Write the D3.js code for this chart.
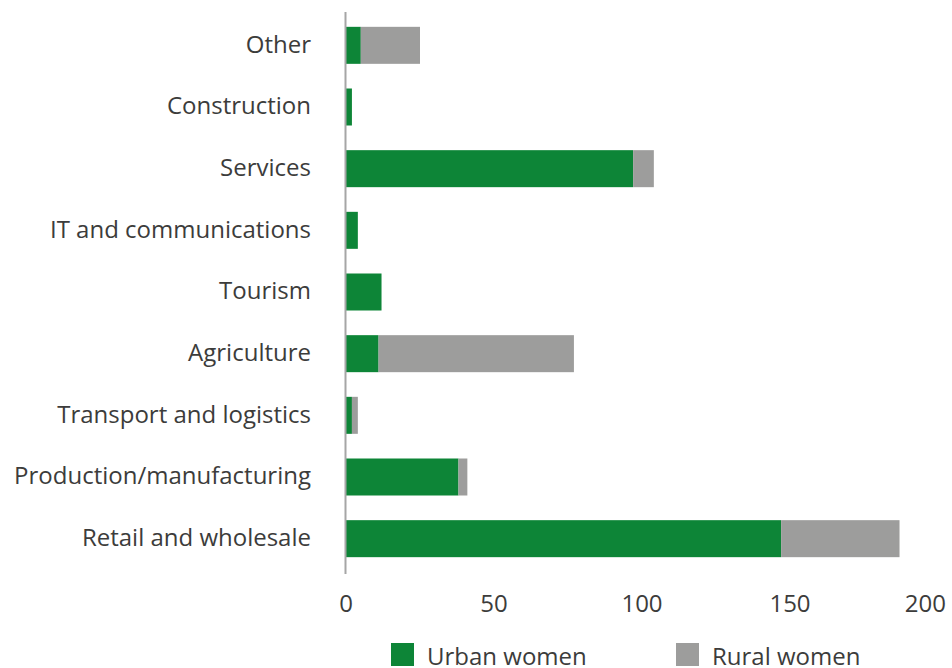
<!DOCTYPE html>
<html><head><meta charset="utf-8">
<script src="https://cdn.jsdelivr.net/npm/d3@7"></script>
<style>body{margin:0;background:#fff;} text{font-family:"Open Sans",sans-serif;fill:#3c3c3b;}</style>
</head><body><svg id="c" width="952" height="668"></svg>
<script>
const categories = ["Other","Construction","Services","IT and communications","Tourism","Agriculture","Transport and logistics","Production/manufacturing","Retail and wholesale"];
const urbanWomen = [5, 2, 97, 4, 12, 11, 2, 38, 147];
const ruralWomen = [20, 0, 7, 0, 0, 66, 2, 3, 40];
const seriesNames = ["Urban women","Rural women"];
const seriesColors = ["#0d8537","#9d9d9c"];
const xTicks = [0,50,100,150,200];

const svg = d3.select("#c");
const x = d3.scaleLinear().domain([0,200]).range([346,938]);
const y = d3.scaleBand().domain(categories).range([14.5,569.5]).paddingInner(0.4).paddingOuter(0.2);

const rows = categories.map((c,i)=>({cat:c, "Urban women":urbanWomen[i], "Rural women":ruralWomen[i]}));
const stacked = d3.stack().keys(seriesNames)(rows);

svg.selectAll("g.s").data(stacked).join("g").attr("fill",(d,i)=>seriesColors[i])
  .selectAll("rect").data(d=>d).join("rect")
  .attr("x",d=>x(d[0])).attr("width",d=>Math.max(0,x(d[1])-x(d[0])))
  .attr("y",d=>y(d.data.cat)).attr("height",y.bandwidth());

// y axis line
svg.append("line").attr("x1",345.5).attr("x2",345.5).attr("y1",12).attr("y2",574)
  .attr("stroke","#a6a6a6").attr("stroke-width",2);

// category labels
svg.selectAll("text.cat").data(categories).join("text").attr("class","cat")
  .attr("x",311).attr("y",d=>y(d)+y.bandwidth()/2).attr("dy","0.3em")
  .attr("text-anchor","end").attr("font-size",24).text(d=>d);

// x tick labels
svg.selectAll("text.tick").data(xTicks).join("text").attr("class","tick")
  .attr("x",(d,i)=>i===xTicks.length-1 ? 946 : x(d)).attr("y",612)
  .attr("text-anchor",(d,i)=>i===xTicks.length-1 ? "end" : "middle")
  .attr("font-size",24).text(d=>d);

// legend
const lx = [391, 676];
const lg = svg.selectAll("g.lg").data(seriesNames).join("g").attr("class","lg")
  .attr("transform",(d,i)=>`translate(${lx[i]},643)`);
lg.append("rect").attr("width",23).attr("height",23).attr("fill",(d,i)=>seriesColors[i]);
lg.append("text").attr("x",36).attr("y",22).attr("font-size",24).text(d=>d);
</script></body></html>
